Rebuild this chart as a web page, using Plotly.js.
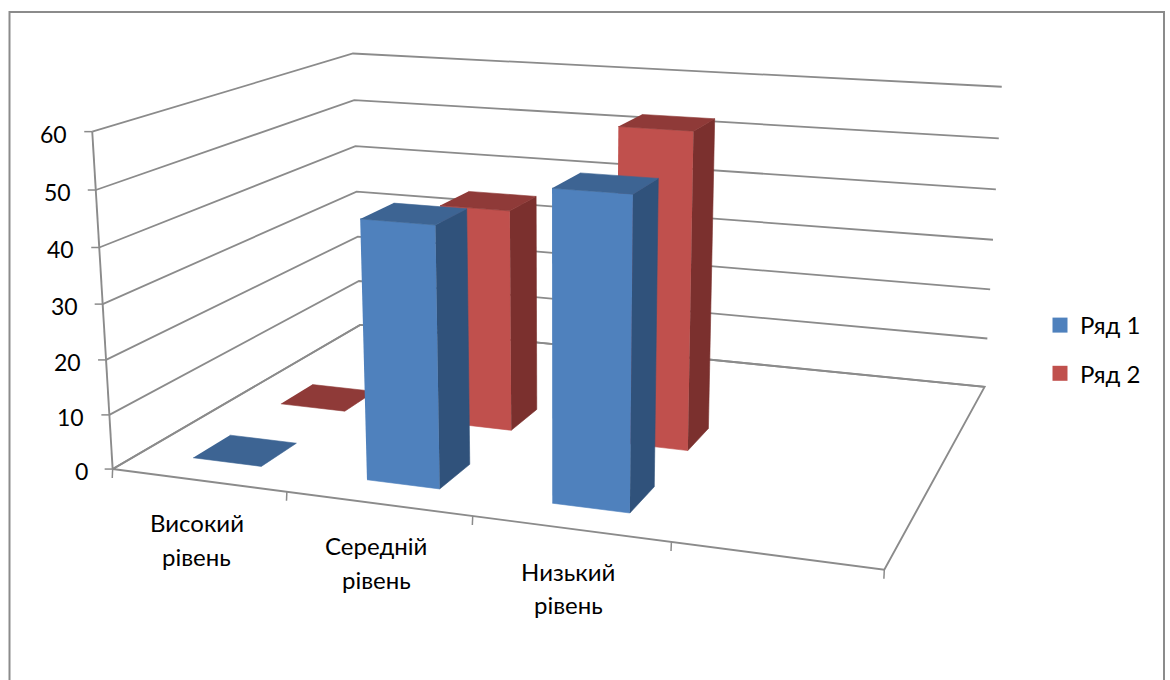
<!DOCTYPE html>
<html><head><meta charset="utf-8">
<script src="https://cdn.plot.ly/plotly-3.0.1.min.js"></script>
<style>html,body{margin:0;padding:0;background:#fff;overflow:hidden}#chart{width:1170px;height:680px}</style>
</head><body><div id="chart"></div>
<script>
// Chart data
var categoryLines = [['Високий','рівень'],['Середній','рівень'],['Низький','рівень']];
var seriesNames = ['Ряд 1','Ряд 2'];
var series1Values = [0,46.2,53.8];
var series2Values = [0,41.7,58.3];
var valueTicks = [0,10,20,30,40,50,60];

// Size of the 3-D box: four category slots, three depth rows, value axis to 60
var slotCount = 4, rowCount = 3, valueMax = 60;

// Perspective camera: maps (slot, row, value) to plane coordinates
var cam = [165.2624325,113.1978979,-0.40747691,112.6486926,
           7.3576621,-20.3422355,-5.71961758,469.0550049,
           -0.0312657,0.0852624,-0.00072957];
function project(u,v,z){
  var w = cam[8]*u + cam[9]*v + cam[10]*z + 1;
  return [(cam[0]*u + cam[1]*v + cam[2]*z + cam[3])/w,
          (cam[4]*u + cam[5]*v + cam[6]*z + cam[7])/w];
}

var lineColor = '#8b8b8b', textColor = '#000000', fontFamily = 'Lato, "Open Sans", sans-serif';
var palette = [
  {front:'#4F81BD', side:'#30527B', top:'#3D6493'},
  {front:'#C0504D', side:'#7B302E', top:'#8F3A38'}
];
var traces = [];

function polyline(points, width){
  var xy = points.map(function(p){ return project(p[0],p[1],p[2]); });
  traces.push({type:'scatter', mode:'lines', x:xy.map(function(q){return q[0];}), y:xy.map(function(q){return q[1];}),
    line:{color:lineColor, width:width||1.8}, showlegend:false, hoverinfo:'skip'});
}
function tick(p, dx, dy){
  var q = project(p[0],p[1],p[2]);
  traces.push({type:'scatter', mode:'lines', x:[q[0],q[0]+dx], y:[q[1],q[1]+dy],
    line:{color:lineColor, width:1.5}, showlegend:false, hoverinfo:'skip'});
}
function face(points, color, name, value){
  var xy = points.map(function(p){ return project(p[0],p[1],p[2]); });
  traces.push({type:'scatter', mode:'lines', fill:'toself', fillcolor:color,
    x:xy.map(function(q){return q[0];}), y:xy.map(function(q){return q[1];}),
    line:{color:color, width:0.6}, showlegend:false, hoverinfo:'text', text:name+': '+value});
}

// Walls: value gridlines run along the left wall and then the back wall
valueTicks.forEach(function(v){
  polyline([[0,0,v],[0,rowCount,v],[slotCount,rowCount,v]]);
});
// Floor outline and the value axis
polyline([[0,0,0],[slotCount,0,0],[slotCount,rowCount,0],[0,rowCount,0],[0,0,0]], 1.9);
polyline([[0,0,0],[0,0,valueMax]], 1.9);
valueTicks.forEach(function(v){ tick([0,0,v], -8, 0); });
for (var s = 0; s <= slotCount; s++) tick([s,0,0], -0.4, 9);

// Bars, back row first and left to right inside a row so nearer faces overlap
var barStart = 0.3, barEnd = 0.7;
[series2Values, series1Values].forEach(function(values, i){
  var row = 1 - i, colors = palette[row], name = seriesNames[row];
  values.forEach(function(val, c){
    var u0 = c+barStart, u1 = c+barEnd, v0 = row+barStart, v1 = row+barEnd;
    if (val > 0) {
      face([[u0,v0,0],[u1,v0,0],[u1,v0,val],[u0,v0,val]], colors.front, name, val);
      face([[u1,v0,0],[u1,v1,0],[u1,v1,val],[u1,v0,val]], colors.side, name, val);
    }
    face([[u0,v0,val],[u1,v0,val],[u1,v1,val],[u0,v1,val]], colors.top, name, val);
  });
});

// Legend entries
seriesNames.forEach(function(n, i){
  traces.push({type:'scatter', mode:'markers', x:[null], y:[null], name:n, legendgroup:n,
    marker:{symbol:'square', size:15, color:palette[i].front}});
});

// Axis text
var annotations = [];
valueTicks.forEach(function(v){
  var q = project(0,0,v);
  annotations.push({x:q[0]-23, y:q[1]+2, text:String(v), showarrow:false, xanchor:'right', yanchor:'middle',
    font:{family:fontFamily, size:23, color:textColor}});
});
categoryLines.forEach(function(lines, c){
  var q = project(c+0.49,0,0);
  lines.forEach(function(t, k){
    annotations.push({x:q[0], y:q[1]+42.5+k*33.5, text:t, showarrow:false, xanchor:'center', yanchor:'middle',
      font:{family:fontFamily, size:24, color:textColor}});
  });
});

var layout = {
  width:1170, height:680, margin:{l:0,r:0,t:0,b:0},
  paper_bgcolor:'#ffffff', plot_bgcolor:'#ffffff',
  xaxis:{range:[0,1170], visible:false, fixedrange:true},
  yaxis:{range:[680,0], visible:false, fixedrange:true},
  showlegend:true,
  legend:{x:1040/1170, y:1-303/680, xanchor:'left', yanchor:'top', tracegroupgap:14,
    font:{family:fontFamily, size:24, color:textColor}, bgcolor:'rgba(0,0,0,0)'},
  annotations:annotations,
  shapes:[{type:'rect', xref:'x', yref:'y', x0:9.5, x1:1164, y0:12, y1:700,
    line:{color:lineColor, width:2}, layer:'below'}]
};
Plotly.newPlot('chart', traces, layout, {displayModeBar:false});
</script></body></html>
